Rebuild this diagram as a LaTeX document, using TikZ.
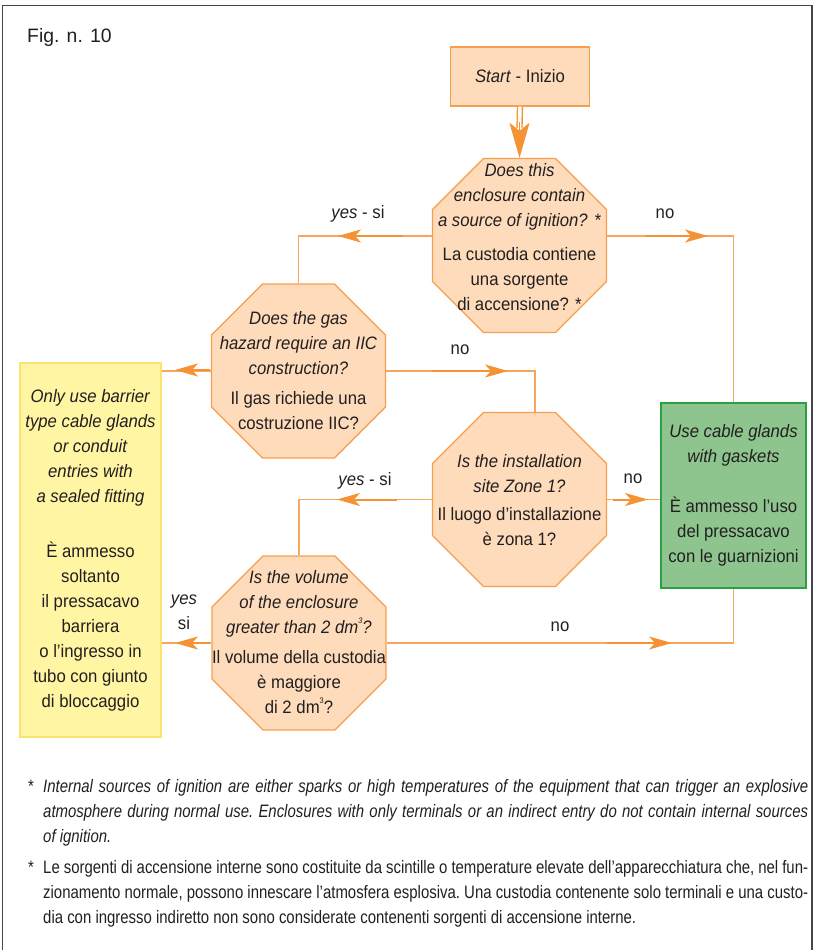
\documentclass[tikz,border=0pt]{standalone}
\usepackage{fontspec}
\setmainfont{Liberation Sans}[FakeStretch=0.93]
\newfontfamily\figfont{Liberation Sans}
\newfontfamily\notefont{Liberation Sans}[FakeStretch=0.83]
\usetikzlibrary{shapes.geometric,arrows.meta,calc}

\definecolor{lineor}{RGB}{248,166,94}
\definecolor{arrowor}{RGB}{245,146,52}
\definecolor{edgeor}{RGB}{246,158,78}
\definecolor{peach}{RGB}{253,219,187}
\definecolor{lemon}{RGB}{255,245,163}
\definecolor{lemonedge}{RGB}{248,228,110}
\definecolor{sage}{RGB}{142,197,142}
\definecolor{sageedge}{RGB}{40,160,70}
\definecolor{ink}{RGB}{35,31,32}
\definecolor{framegray}{RGB}{70,70,70}

\newcommand{\cubic}{\raisebox{0.55em}{\fontsize{8}{8}\selectfont 3}}

\tikzset{
  txt/.style={font=\fontsize{18}{25}\selectfont, text=ink, align=center, inner sep=0pt},
  lbl/.style={font=\fontsize{18}{25}\selectfont, text=ink, inner sep=0pt},
  fn/.style={font=\notefont\fontsize{18}{25}\selectfont\frenchspacing, text=ink,
    inner sep=0pt, anchor=base west},
  octa/.style={regular polygon, regular polygon sides=8, minimum size=188.3pt,
    inner sep=0pt, draw=edgeor, fill=peach, line width=1.3pt},
  boxstart/.style={draw=edgeor, fill=peach, line width=1.3pt,
    minimum width=139pt, minimum height=59pt},
  link/.style={draw=lineor, line width=1.3pt},
  shaft/.style={draw=arrowor, line width=2pt,
    -{Stealth[length=23pt,width=13pt,inset=6pt]}},
}

\begin{document}
\begin{tikzpicture}[x=1pt,y=-1pt]
\useasboundingbox (0,0) rectangle (815,950);

% outer frame (open at the bottom edge of the page)
\draw[framegray, line width=1.2pt] (2.5,955) -- (2.5,5.5) -- (812,5.5) -- (812,955);

\node[font=\figfont\fontsize{19.4}{22}\selectfont, text=ink, inner sep=0pt, anchor=base west]
  (fig) at (27,43) {Fig. n. 10};

% boxes
\node[boxstart, txt] (start) at (520,76.5) {\textit{Start} - Inizio};

\node[octa] (q1) at (519.5,245.5) {};
\node[octa] (q2) at (298.5,371) {};
\node[octa] (q3) at (519.5,499.5) {};
\node[octa] (q4) at (299,643) {};

\node[txt] (q1t) at (519.5,237.5) {\textit{Does this}\\ \textit{enclosure contain}\\
  \textit{a source of ignition? *}\\[9pt] La custodia contiene\\ una sorgente\\ di accensione? *};
\node[txt] (q2t) at (298.5,370.5) {\textit{Does the gas}\\ \textit{hazard require an IIC}\\
  \textit{construction?}\\[5pt] Il gas richiede una\\ costruzione IIC?};
\node[txt] (q3t) at (519.5,500) {\textit{Is the installation}\\ \textit{site Zone 1?}\\[3pt]
  Il luogo d’installazione\\ è zona 1?};
\node[txt] (q4t) at (299,642) {\textit{Is the volume}\\ \textit{of the enclosure}\\
  \textit{greater than 2 dm\cubic?}\\[5pt] Il volume della custodia\\ è maggiore\\ di 2 dm\cubic?};

\node[txt, draw=lemonedge, fill=lemon, line width=1.2pt, minimum width=141pt,
  minimum height=374pt] (yel) at (90.5,550) {\textit{Only use barrier}\\
  \textit{type cable glands}\\ \textit{or conduit}\\ \textit{entries with}\\
  \textit{a sealed fitting}\\[30pt] È ammesso\\ soltanto\\ il pressacavo\\ barriera\\
  o l’ingresso in\\ tubo con giunto\\ di bloccaggio};

\node[txt, draw=sageedge, fill=sage, line width=1.3pt, minimum width=145pt,
  minimum height=185pt] (grn) at (733.5,495.5) {\textit{Use cable glands}\\
  \textit{with gaskets}\\[25pt] È ammesso l’uso\\ del pressacavo\\ con le guarnizioni};

% start -> first question: double shaft with a large head
\draw[draw=arrowor, line width=1.4pt, double=white, double distance=3.5pt]
  (start.south) -- ($(q1.north)+(0,-30)$);
\draw[draw=arrowor, line width=1pt, -{Stealth[length=35pt,width=20pt,inset=8pt]}]
  ($(q1.north)+(0,-36)$) -- (q1.north);

% connectors
\draw[link] ([yshift=9.5pt]q1.west) -| (q2.north);
\coordinate (tA) at (338,236);
\draw[shaft] ([xshift=65pt]tA) -- (tA);

\draw[link] ([yshift=9.5pt]q1.east) -| (grn.north);
\coordinate (tB) at (708,236);
\draw[shaft] ([xshift=-62pt]tB) -- (tB);

\draw[link] (q2.west) -- (q2.west -| yel.east);
\coordinate (tC) at (175,370);
\draw[shaft] ([xshift=35pt]tC) -- (tC);

\draw[link] (q2.east) -| ([xshift=15.5pt]q3.north);
\coordinate (tD) at (508,371);
\draw[shaft] ([xshift=-76pt]tD) -- (tD);

\draw[link] (q3.west) -| (q4.north);
\coordinate (tE) at (337,499.5);
\draw[shaft] ([xshift=60pt]tE) -- (tE);

\draw[link] (q3.east) -- (q3.east -| grn.west);
\coordinate (tF) at (648,499.5);
\draw[shaft] ([xshift=-35pt]tF) -- (tF);

\draw[link] (q4.west) -- (q4.west -| yel.east);
\coordinate (tG) at (175,643);
\draw[shaft] ([xshift=35pt]tG) -- (tG);

\draw[link] (q4.east) -| (grn.south);
\coordinate (tH) at (672,643);
\draw[shaft] ([xshift=-65pt]tH) -- (tH);

% branch labels
\node[lbl] (l1) at (358,214) {\textit{yes} - si};
\node[lbl] (l2) at (665,214) {no};
\node[lbl] (l3) at (460,350) {no};
\node[lbl] (l4) at (365,481) {\textit{yes} - si};
\node[lbl] (l5) at (633,479) {no};
\node[lbl, align=center] (l6) at (184,612) {\textit{yes}\\si};
\node[lbl] (l7) at (560,627) {no};

% footnotes
\node[fn, anchor=base] (s1) at (31,792) {*};
\node[fn] (f1a) at (43,792) {\itshape\makebox[765pt][s]{Internal sources of ignition are either sparks or high temperatures of the equipment that can trigger an explosive}};
\node[fn] (f1b) at (43,817) {\itshape\makebox[765pt][s]{atmosphere during normal use. Enclosures with only terminals or an indirect entry do not contain internal sources}};
\node[fn] (f1c) at (43,842) {\itshape of ignition.};

\node[fn, anchor=base] (s2) at (31,873) {*};
\node[fn] (f2a) at (43,873) {\makebox[765pt][s]{Le sorgenti di accensione interne sono costituite da scintille o temperature elevate dell’apparecchiatura che, nel fun-}};
\node[fn] (f2b) at (43,898) {\makebox[765pt][s]{zionamento normale, possono innescare l’atmosfera esplosiva. Una custodia contenente solo terminali e una custo-}};
\node[fn] (f2c) at (43,923) {dia con ingresso indiretto non sono considerate contenenti sorgenti di accensione interne.};
\end{tikzpicture}
\end{document}
